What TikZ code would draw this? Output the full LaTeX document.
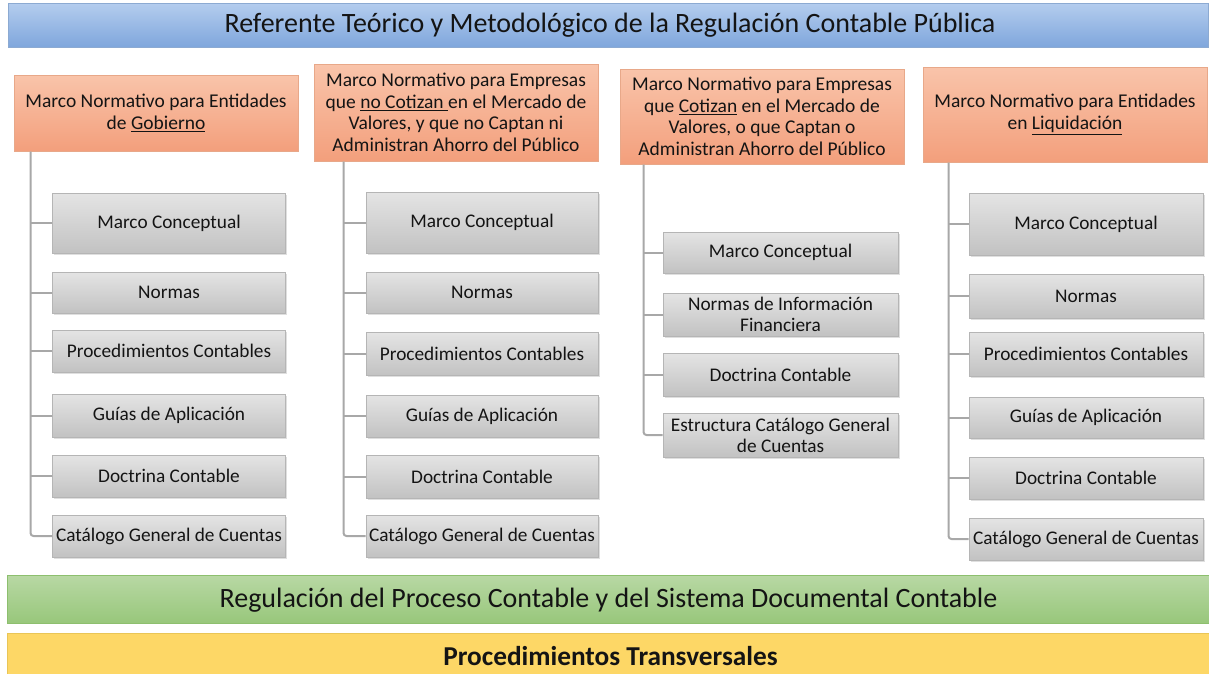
\documentclass[tikz,border=0pt]{standalone}
\usepackage{fontspec}
\setmainfont{Carlito}
\usetikzlibrary{shadows}
\definecolor{bluetop}{HTML}{B4CDEE}
\definecolor{bluebot}{HTML}{7FA6DC}
\definecolor{blueline}{HTML}{8CAAD2}
\definecolor{ortop}{HTML}{F9C4AA}
\definecolor{orbot}{HTML}{F39F7C}
\definecolor{orline}{HTML}{E8A889}
\definecolor{grtop}{HTML}{E4E4E4}
\definecolor{grbot}{HTML}{C2C2C2}
\definecolor{grline}{HTML}{B5B5B5}
\definecolor{gntop}{HTML}{B8D8A4}
\definecolor{gnbot}{HTML}{98C77B}
\definecolor{gnline}{HTML}{8DBF6E}
\definecolor{yel}{HTML}{FDD766}
\definecolor{yelline}{HTML}{E9C557}
\definecolor{connc}{HTML}{A8A8A8}
\definecolor{txt}{HTML}{141414}
\tikzset{
  bar/.style={draw, line width=1pt, inner sep=0pt, text=txt, font=\fontsize{28}{32}\selectfont},
  hdr/.style={draw=orline, line width=1pt, top color=ortop, bottom color=orbot, inner sep=0pt,
    align=center, text=txt, font=\fontsize{19.5}{21.5}\selectfont, minimum width=284pt},
  item/.style={draw=grline, line width=1pt, top color=grtop, bottom color=grbot, inner sep=0pt,
    align=center, text=txt, font=\fontsize{19.3}{21}\selectfont, minimum width=233pt,
    drop shadow={shadow xshift=1.5pt, shadow yshift=-1.5pt, opacity=0.25, fill=gray}},
  conn/.style={draw=connc, line width=2pt},
}
\begin{document}
\begin{tikzpicture}[x=1pt,y=-1pt]
\useasboundingbox (0,0) rectangle (1209,673);
% bars
\node[bar, draw=blueline, top color=bluetop, bottom color=bluebot, minimum width=1200pt, minimum height=44pt] (top) at (608.5,25) {};
\node[text=txt, font=\fontsize{28}{32}\selectfont, inner sep=0pt] (ttext) at (610,25) {Referente Teórico y Metodológico de la Regulación Contable Pública};
\node[bar, draw=gnline, top color=gntop, bottom color=gnbot, minimum width=1202pt, minimum height=48pt] (green) at (608,599) {};
\node[text=txt, font=\fontsize{28}{32}\selectfont, inner sep=0pt] (gtext) at (608.5,600) {Regulación del Proceso Contable y del Sistema Documental Contable};
\node[bar, draw=yelline, fill=yel, minimum width=1202pt, minimum height=50pt] (yellow) at (608,658) {};
\node[text=txt, font=\fontsize{27.3}{30}\selectfont\bfseries, inner sep=0pt] (ytext) at (610.5,656) {Procedimientos Transversales};
% headers
\node[hdr, minimum height=76pt] (h1) at (156,113) {Marco Normativo para Entidades\\de \underline{Gobierno}};
\node[hdr, minimum height=97pt] (h2) at (456,112.5) {Marco Normativo para Empresas\\que \underline{no Cotizan\ }en el Mercado de\\Valores, y que no Captan ni\\Administran Ahorro del Público};
\node[hdr, minimum height=95pt] (h3) at (762,116.5) {Marco Normativo para Empresas\\que \underline{Cotizan} en el Mercado de\\Valores, o que Captan o\\Administran Ahorro del Público};
\node[hdr, minimum height=95pt] (h4) at (1065,114.5) {Marco Normativo para Entidades\\en \underline{Liquidación}};
% trunk coordinates
\coordinate (t1) at ([xshift=17pt]h1.south west);
\coordinate (t2) at ([xshift=30pt]h2.south west);
\coordinate (t3) at ([xshift=24pt]h3.south west);
\coordinate (t4) at ([xshift=26pt]h4.south west);
% column 1
\node[item, minimum height=60pt] (a1) at (169,223) {Marco Conceptual};
\node[item, minimum height=41pt] (a2) at (169,292.5) {Normas};
\node[item, minimum height=42pt] (a3) at (169,351) {Procedimientos Contables};
\node[item, minimum height=43pt] (a4) at (169,415.5) {Guías de Aplicación};
\node[item, minimum height=42pt] (a5) at (169,476) {Doctrina Contable};
\node[item, minimum height=42pt] (a6) at (169,536) {Catálogo General de Cuentas};
% column 2
\node[item, minimum height=61pt, minimum width=232pt] (b1) at (482,222.5) {Marco Conceptual};
\node[item, minimum height=41pt, minimum width=232pt] (b2) at (482,292.5) {Normas};
\node[item, minimum height=43pt, minimum width=232pt] (b3) at (482,354) {Procedimientos Contables};
\node[item, minimum height=42pt, minimum width=232pt] (b4) at (482,416) {Guías de Aplicación};
\node[item, minimum height=43pt, minimum width=232pt] (b5) at (482,476.5) {Doctrina Contable};
\node[item, minimum height=42pt, minimum width=232pt] (b6) at (482,536) {Catálogo General de Cuentas};
% column 3
\node[item, minimum height=41pt, minimum width=235pt] (c1) at (780.5,252.5) {Marco Conceptual};
\node[item, minimum height=43pt, minimum width=235pt] (c2) at (780.5,314.5) {Normas de Información\\Financiera};
\node[item, minimum height=43pt, minimum width=235pt] (c3) at (780.5,374.5) {Doctrina Contable};
\node[item, minimum height=44pt, minimum width=235pt] (c4) at (780.5,435) {Estructura Catálogo General\\de Cuentas};
% column 4
\node[item, minimum height=62pt, minimum width=234pt] (d1) at (1086,224) {Marco Conceptual};
\node[item, minimum height=44pt, minimum width=234pt] (d2) at (1086,296) {Normas};
\node[item, minimum height=44pt, minimum width=234pt] (d3) at (1086,354) {Procedimientos Contables};
\node[item, minimum height=41pt, minimum width=234pt] (d4) at (1086,417.5) {Guías de Aplicación};
\node[item, minimum height=42pt, minimum width=234pt] (d5) at (1086,478) {Doctrina Contable};
\node[item, minimum height=42pt, minimum width=234pt] (d6) at (1086,539) {Catálogo General de Cuentas};
% connectors
\foreach \n in {a1,a2,a3,a4,a5} \draw[conn] (\n.west) -- (\n.west -| t1);
\draw[conn, rounded corners=3pt] (t1) |- (a6.west);
\foreach \n in {b1,b2,b3,b4,b5} \draw[conn] (\n.west) -- (\n.west -| t2);
\draw[conn, rounded corners=3pt] (t2) |- (b6.west);
\foreach \n in {c1,c2,c3} \draw[conn] (\n.west) -- (\n.west -| t3);
\draw[conn, rounded corners=3pt] (t3) |- (c4.west);
\foreach \n in {d1,d2,d3,d4,d5} \draw[conn] (\n.west) -- (\n.west -| t4);
\draw[conn, rounded corners=3pt] (t4) |- (d6.west);
\end{tikzpicture}
\end{document}
